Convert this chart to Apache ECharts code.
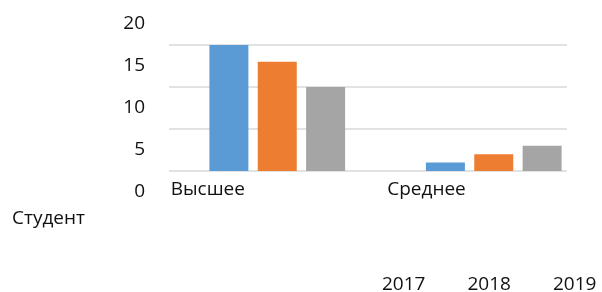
<!DOCTYPE html>
<html>
<head>
<meta charset="utf-8">
<script src="https://cdn.jsdelivr.net/npm/echarts@6/dist/echarts.min.js"></script>
<style>
    html, body { margin: 0; padding: 0; background: #fff; }
    #chart { width: 602px; height: 292px; }
</style>
</head>
<body>
<div id="chart"></div>
<script>
    // данные
    var categories = ['Высшее', 'Среднее'];
    var years = ['2017', '2018', '2019'];
    var values2017 = [15, 1];
    var values2018 = [13, 2];
    var values2019 = [10, 3];
    var colors = ['#5b9bd5', '#ed7d31', '#a5a5a5'];
    var font = '"Open Sans", "Noto Sans", sans-serif';

    var chart = echarts.init(document.getElementById('chart'));

    function barSeries(name, data, color) {
        return {
            name: name,
            type: 'bar',
            xAxisIndex: 0,
            yAxisIndex: 0,
            barWidth: 39,
            barGap: '24%',
            itemStyle: { color: color },
            data: data
        };
    }

    chart.setOption({
        animation: false,
        title: {
            text: 'Студент',
            left: 12,
            top: 209,
            padding: 0,
            textStyle: { fontFamily: font, fontSize: 19, fontWeight: 'normal', color: '#111' }
        },
        legend: {
            data: years,
            left: 377,
            top: 275,
            width: 300,
            padding: 0,
            icon: 'rect',
            itemWidth: 0,
            itemHeight: 0,
            itemGap: 37,
            textStyle: { fontFamily: font, fontSize: 19, color: '#111' }
        },
        grid: [
            // bars + labels (extends past right edge, like the source)
            { left: 169, top: 24, width: 438, height: 168 },
            // gridlines only
            { left: 169, top: 45, width: 398, height: 126 }
        ],
        xAxis: [
            {
                type: 'category',
                gridIndex: 0,
                data: categories,
                axisLine: { show: false },
                axisTick: { show: false },
                axisLabel: {
                    margin: -12,
                    formatter: function (v) { return '{a|' + v + '}'; },
                    rich: {
                        a: { width: 213, align: 'left', fontFamily: font, fontSize: 19, color: '#111' }
                    }
                }
            },
            {
                type: 'value',
                gridIndex: 1,
                min: 0,
                max: 1,
                show: false
            }
        ],
        yAxis: [
            {
                type: 'value',
                gridIndex: 0,
                min: -2.5,
                max: 17.5,
                show: false
            },
            {
                type: 'value',
                gridIndex: 0,
                position: 'left',
                min: 0,
                max: 20,
                interval: 5,
                axisLine: { show: false },
                axisTick: { show: false },
                splitLine: { show: false },
                axisLabel: { margin: 24, fontFamily: font, fontSize: 19, color: '#111' }
            },
            {
                type: 'value',
                gridIndex: 1,
                min: 0,
                max: 15,
                interval: 5,
                axisLine: { show: false },
                axisTick: { show: false },
                axisLabel: { show: false },
                splitLine: { show: true, lineStyle: { color: '#d9d9d9', width: 1.5 } }
            }
        ],
        series: [
            barSeries(years[0], values2017, colors[0]),
            barSeries(years[1], values2018, colors[1]),
            barSeries(years[2], values2019, colors[2])
        ]
    });
</script>
</body>
</html>
